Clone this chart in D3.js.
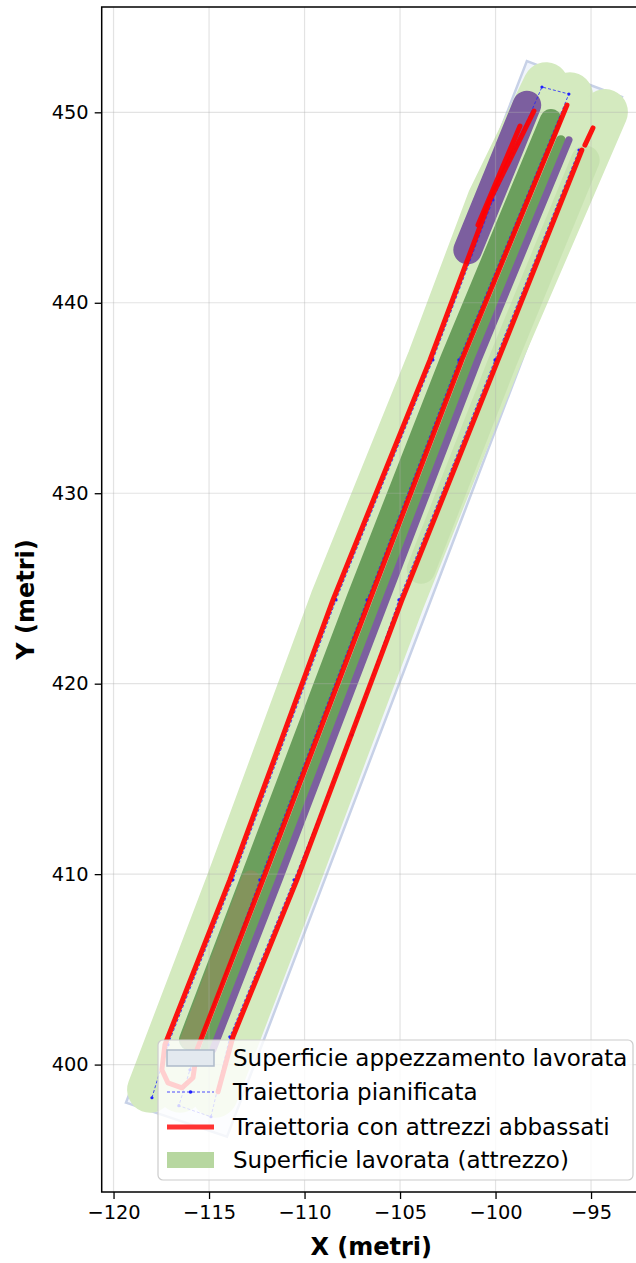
<!DOCTYPE html>
<html>
<head>
<meta charset="utf-8">
<script src="https://cdn.jsdelivr.net/npm/d3@7"></script>
<style>
  body { margin: 0; background: #fff; }
  svg { display: block; font-family: "DejaVu Sans", sans-serif; }
</style>
</head>
<body>
<svg id="chart" width="636" height="1263"></svg>
<script>
// field boundary (metri)
const fieldCorners = [[-119.35, 398.00], [-114.06, 396.21], [-93.38, 450.80], [-98.36, 452.69]];

// planned trajectory
const plannedPath = [
  [-117.99, 398.26], [-117.15, 401.04], [-113.75, 409.70], [-108.35, 424.40], [-103.28, 437.00],
  [-100.14, 445.40], [-97.57, 451.33], [-96.16, 450.96], [-101.92, 437.00], [-106.73, 424.40],
  [-112.34, 409.70], [-116.00, 399.73], [-116.58, 397.84], [-114.90, 397.26], [-113.91, 401.46],
  [-110.55, 409.70], [-107.52, 417.31], [-105.06, 424.40], [-100.03, 437.00], [-95.63, 448.02]
];

// trajectory with lowered tools
const loweredTracks = [
  [[-97.99, 450.07], [-100.29, 445.40], [-103.43, 437.00], [-108.51, 424.40], [-113.91, 409.70],
   [-117.31, 401.04], [-117.47, 399.73], [-117.15, 399.04], [-116.42, 398.78], [-115.84, 399.31],
   [-115.63, 400.78], [-112.18, 409.70], [-106.58, 424.40], [-101.76, 437.00], [-96.26, 450.38]],
  [[-95.48, 448.02], [-99.87, 437.00], [-104.90, 424.40], [-110.40, 409.70], [-113.75, 401.46], [-114.53, 398.57]],
  [[-94.90, 449.18], [-95.32, 448.28]],
  [[-98.72, 449.28], [-100.92, 444.08]]
];

// worked surface (tool swath centre lines)
const toolSwaths = [
  [[-97.36, 451.43], [-100.29, 445.40], [-103.43, 437.00], [-108.51, 424.40], [-113.91, 409.70], [-118.09, 398.68]],
  [[-96.10, 450.90], [-101.76, 437.00], [-106.58, 424.40], [-112.18, 409.70], [-116.52, 398.68]],
  [[-94.27, 450.02], [-99.87, 437.00], [-104.90, 424.40], [-110.40, 409.70], [-114.69, 398.41]]
];
const swathWidth = 2.4;

// overlapping passes
const overlapDark = [
  [[-97.10, 449.60], [-102.34, 437.00], [-107.26, 424.40], [-112.81, 409.70], [-116.00, 401.30]],
  [[-96.58, 448.55], [-101.34, 437.00], [-106.16, 424.40], [-111.76, 409.70], [-115.21, 400.78]]
];
const overlapDarkWidth = [1.15, 0.5];
const overlapPurple = [
  [[-98.36, 450.38], [-101.46, 442.77]],
  [[-96.16, 448.55], [-100.92, 437.00], [-105.74, 424.40], [-111.34, 409.70], [-114.80, 400.78]]
];
const overlapPurpleWidth = [1.5, 0.38];
const overlapBrown = [[-112.81, 409.70], [-116.00, 401.30]];
const repeatedPass = [[-95.3, 447.5], [-99.6, 437.0], [-103.9, 426.0]];

const xTicks = [-120, -115, -110, -105, -100, -95];
const yTicks = [400, 410, 420, 430, 440, 450];
const legendLabels = [
  'Superficie appezzamento lavorata',
  'Traiettoria pianificata',
  'Traiettoria con attrezzi abbassati',
  'Superficie lavorata (attrezzo)'
];

const svg = d3.select('#chart');
const pl = 101.7, pr = 640.7, pt = 7, pb = 1192;

const x = d3.scaleLinear().domain([-120.62, -92.4]).range([pl, pr]);
const y = d3.scaleLinear().domain([393.31, 455.53]).range([pb, pt]);
const m = x(1) - x(0);

svg.append('defs').append('clipPath').attr('id', 'plot')
  .append('rect').attr('x', pl).attr('y', pt)
  .attr('width', pr - pl).attr('height', pb - pt);

const line = d3.line().x(d => x(d[0])).y(d => y(d[1]));
const plot = svg.append('g').attr('clip-path', 'url(#plot)');

// field
plot.append('path')
  .attr('d', line(fieldCorners) + 'Z')
  .attr('fill', '#f1f5fc')
  .attr('stroke', '#c7d1e7')
  .attr('stroke-width', 2.5);

function band(g, pts, width, color, opacity) {
  g.append('path')
    .attr('d', line(pts))
    .attr('fill', 'none')
    .attr('stroke', color)
    .attr('stroke-width', width * m)
    .attr('stroke-linecap', 'round')
    .attr('stroke-linejoin', 'round')
    .attr('opacity', opacity);
}

toolSwaths.forEach(s => band(plot, s, swathWidth, '#d4eabf', 1));
band(plot, repeatedPass, 1.5, '#a9d08e', 0.3);
overlapDark.forEach((s, i) => band(plot, s, overlapDarkWidth[i], '#6b9f5d', 1));
band(plot, overlapBrown, 1.0, '#9c8a5c', 0.5);
overlapPurple.forEach((s, i) => band(plot, s, overlapPurpleWidth[i], '#7c5f9f', 1));

// grid
plot.selectAll('.gx').data(xTicks).join('line')
  .attr('x1', d => x(d)).attr('x2', d => x(d))
  .attr('y1', pt).attr('y2', pb)
  .attr('stroke', '#b0b0b0').attr('stroke-opacity', 0.35).attr('stroke-width', 1.2);
plot.selectAll('.gy').data(yTicks).join('line')
  .attr('y1', d => y(d)).attr('y2', d => y(d))
  .attr('x1', pl).attr('x2', pr)
  .attr('stroke', '#b0b0b0').attr('stroke-opacity', 0.35).attr('stroke-width', 1.2);

// planned path
plot.append('path')
  .attr('d', line(plannedPath))
  .attr('fill', 'none')
  .attr('stroke', '#2020ff')
  .attr('stroke-opacity', 0.8)
  .attr('stroke-width', 1)
  .attr('stroke-dasharray', '3,2');
plot.selectAll('.pm').data(plannedPath).join('circle')
  .attr('cx', d => x(d[0])).attr('cy', d => y(d[1]))
  .attr('r', 1.6).attr('fill', '#2020ff');

// red tracks
loweredTracks.forEach(t => {
  plot.append('path')
    .attr('d', line(t))
    .attr('fill', 'none')
    .attr('stroke', '#ff0000')
    .attr('stroke-opacity', 0.92)
    .attr('stroke-width', 5)
    .attr('stroke-linecap', 'round')
    .attr('stroke-linejoin', 'round');
});

// axes
const xAxis = svg.append('g').attr('transform', `translate(0,${pb})`)
  .call(d3.axisBottom(x).tickValues(xTicks).tickSize(7).tickPadding(6)
    .tickFormat(d => String(d).replace('-', '\u2212')));
const yAxis = svg.append('g').attr('transform', `translate(${pl},0)`)
  .call(d3.axisLeft(y).tickValues(yTicks).tickSize(7).tickPadding(6));
[xAxis, yAxis].forEach(a => {
  a.select('.domain').remove();
  a.selectAll('line').attr('stroke', '#000').attr('stroke-width', 1.3);
  a.selectAll('text').attr('font-size', 19.4).attr('fill', '#000')
    .attr('font-family', '"DejaVu Sans", sans-serif');
});

svg.append('rect')
  .attr('x', pl).attr('y', pt)
  .attr('width', pr - pl).attr('height', pb - pt)
  .attr('fill', 'none').attr('stroke', '#000').attr('stroke-width', 1.5);

svg.append('text')
  .attr('x', (pl + pr) / 2).attr('y', 1255)
  .attr('text-anchor', 'middle')
  .attr('font-size', 24).attr('font-weight', 'bold')
  .text('X (metri)');
svg.append('text')
  .attr('transform', `translate(34,${(pt + pb) / 2}) rotate(-90)`)
  .attr('text-anchor', 'middle')
  .attr('font-size', 24).attr('font-weight', 'bold')
  .text('Y (metri)');

// legend
const lg = svg.append('g');
lg.append('rect')
  .attr('x', 158).attr('y', 1040).attr('width', 475).attr('height', 140)
  .attr('rx', 5)
  .attr('fill', '#fff').attr('fill-opacity', 0.8)
  .attr('stroke', '#cccccc').attr('stroke-width', 1.2);
const rowY = [1058, 1092, 1127, 1160];
lg.append('rect').attr('x', 167).attr('y', rowY[0] - 8).attr('width', 47).attr('height', 16)
  .attr('fill', '#e3e9ef').attr('stroke', '#aebaca').attr('stroke-width', 1.5);
lg.append('line').attr('x1', 167).attr('x2', 214).attr('y1', rowY[1]).attr('y2', rowY[1])
  .attr('stroke', '#2020ff').attr('stroke-opacity', 0.8).attr('stroke-width', 1)
  .attr('stroke-dasharray', '3,2');
lg.append('circle').attr('cx', 190.5).attr('cy', rowY[1]).attr('r', 1.8).attr('fill', '#2020ff');
lg.append('line').attr('x1', 167).attr('x2', 214).attr('y1', rowY[2]).attr('y2', rowY[2])
  .attr('stroke', '#ff3333').attr('stroke-width', 5);
lg.append('rect').attr('x', 167).attr('y', rowY[3] - 8).attr('width', 47).attr('height', 16)
  .attr('fill', '#b7d7a0');
lg.selectAll('.lt').data(legendLabels).join('text')
  .attr('x', 233).attr('y', (d, i) => rowY[i]).attr('dy', '0.35em')
  .attr('font-size', 23).attr('fill', '#000')
  .text(d => d);
</script>
</body>
</html>
